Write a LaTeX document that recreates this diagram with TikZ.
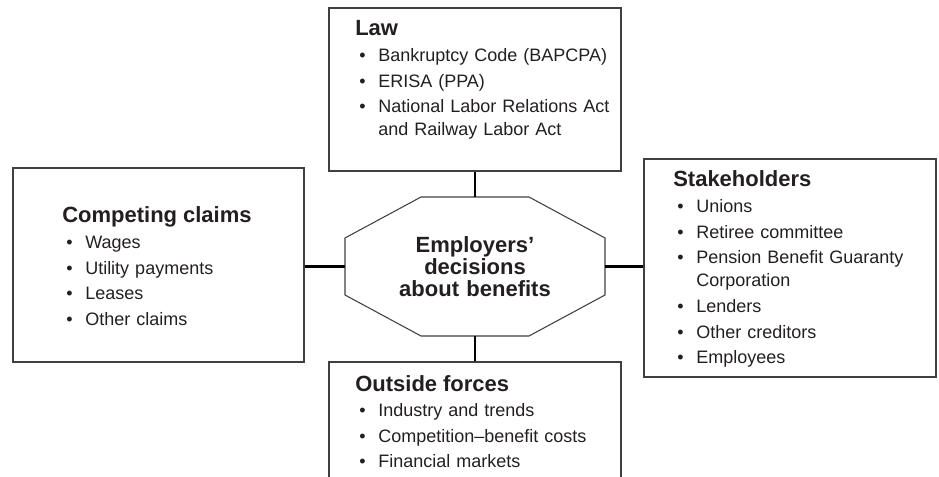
\documentclass[tikz,border=0pt]{standalone}
\usepackage{fontspec}
\setmainfont{Liberation Sans}
\usepackage{tikz}
\usetikzlibrary{fit}

\definecolor{ink}{HTML}{231F20}
\newcommand{\hd}[1]{\raggedright{\fontsize{16.5}{17.25}\selectfont\bfseries #1\par}}
\newcommand{\itm}{\par\parskip=2pt\relax\hangindent=17.25pt\hangafter=1\noindent\makebox[17.25pt][l]{\hspace{3pt}\textbullet}}

\begin{document}
\begin{tikzpicture}[x=0.75pt, y=-0.75pt,
    box/.style={draw=black!75, line width=1.1pt, inner sep=0pt},
    oct/.style={draw=black!75, line width=0.8pt},
    link/.style={draw=black, line width=1.6pt},
    list/.style={anchor=base west, inner sep=0pt, text=ink, font=\fontsize{13.5}{17.25}\selectfont},
    core/.style={text=ink, align=center, inner sep=0pt, text width=150pt, font=\fontsize{16.5}{16.5}\selectfont\bfseries}]
    \useasboundingbox (0,0) rectangle (939,477);
    \clip (0,0) rectangle (939,477);

    % the four boxes
    \node[box, fit={(329,8) (621,171)}] (law) {};
    \node[box, fit={(13,168) (304,362)}] (claims) {};
    \node[box, fit={(644,159) (936,377)}] (stake) {};
    \node[box, fit={(329,362) (621,520)}] (forces) {};

    \node[list, text width=200pt] (lawtxt) at (355,36) {
        \hd{Law}
        \itm Bankruptcy Code (BAPCPA)
        \itm ERISA (PPA)
        \itm National Labor Relations Act\newline and Railway Labor Act\par
    };
    \node[list, text width=160pt] (claimstxt) at (62,223) {
        \hd{Competing claims}
        \itm Wages
        \itm Utility payments
        \itm Leases
        \itm Other claims\par
    };
    \node[list, text width=195pt] (staketxt) at (673,187) {
        \hd{Stakeholders}
        \itm Unions
        \itm Retiree committee
        \itm Pension Benefit Guaranty\newline Corporation
        \itm Lenders
        \itm Other creditors
        \itm Employees\par
    };
    \node[list, text width=200pt] (forcestxt) at (355,391) {
        \hd{Outside forces}
        \itm Industry and trends
        \itm Competition--benefit costs
        \itm Financial markets\par
    };

    % octagon in the middle
    \coordinate (mid) at (475,266.5);
    \draw[oct] ([shift={(-54,-69.5)}]mid) -- ([shift={(54,-69.5)}]mid)
        -- ([shift={(130,-28.5)}]mid) -- ([shift={(130,28.5)}]mid)
        -- ([shift={(54,69.5)}]mid) -- ([shift={(-54,69.5)}]mid)
        -- ([shift={(-130,28.5)}]mid) -- ([shift={(-130,-28.5)}]mid) -- cycle;
    \node[core] (emp) at (mid) {Employers'\\decisions\\about benefits};
    \coordinate (octn) at ([shift={(0,-69.5)}]mid);
    \coordinate (octs) at ([shift={(0,69.5)}]mid);
    \coordinate (octw) at ([shift={(-130,0)}]mid);
    \coordinate (octe) at ([shift={(130,0)}]mid);

    % connectors
    \draw[link] (law.south) -- (octn);
    \draw[link] (octs) -- (forces.north);
    \draw[link] (claims.east |- octw) -- (octw);
    \draw[link] (octe) -- (octe -| stake.west);
\end{tikzpicture}
\end{document}
